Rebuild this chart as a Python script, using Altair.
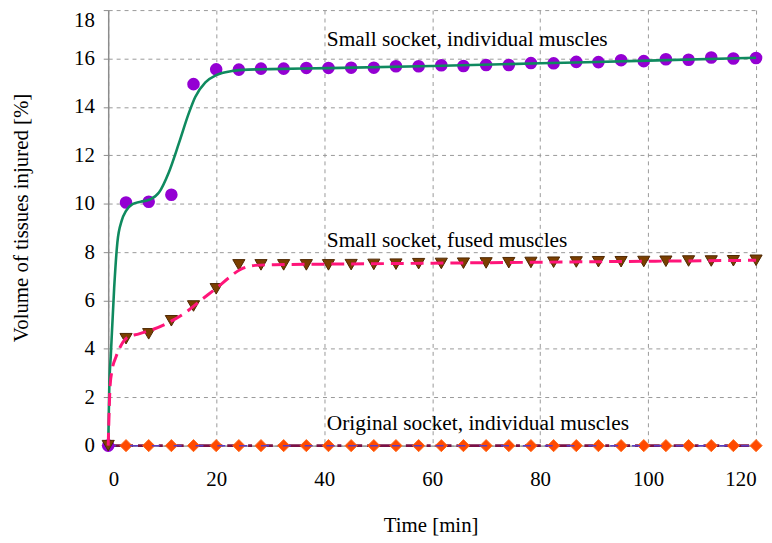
import altair as alt
import pandas as pd

# ---- data ----
times = [0, 3.3, 7.5, 11.7, 15.8, 20.0, 24.2, 28.3, 32.5, 36.7, 40.8, 45.0, 49.2, 53.3, 57.5,
         61.7, 65.8, 70.0, 74.2, 78.3, 82.5, 86.7, 90.8, 95.0, 99.2, 103.3, 107.5, 111.7, 115.8, 120.0]
small_individual = [0, 10.05, 10.08, 10.37, 14.94, 15.55, 15.54, 15.58, 15.58, 15.61, 15.61, 15.62,
                    15.62, 15.68, 15.68, 15.72, 15.69, 15.73, 15.73, 15.81, 15.80, 15.86, 15.85,
                    15.93, 15.89, 15.97, 15.95, 16.04, 16.00, 16.02]
small_fused = [0, 4.42, 4.62, 5.16, 5.77, 6.48, 7.47, 7.47, 7.47, 7.47, 7.47, 7.48, 7.49, 7.50,
               7.52, 7.53, 7.54, 7.55, 7.56, 7.57, 7.58, 7.59, 7.60, 7.60, 7.61, 7.62, 7.63, 7.63,
               7.64, 7.66]
original_individual = [0] * 30

fit_individual_t = [0, 0.2, 0.5, 1.1, 1.7, 2.5, 3.3, 4.5, 6.0, 7.6, 9.4, 11.2, 13.1, 14.9, 16.1,
                    18.0, 20.1, 22.9, 25.9, 30.0, 40.8, 60, 80, 100, 120]
fit_individual_v = [0, 2.4, 3.8, 6.5, 8.4, 9.3, 9.7, 9.98, 10.08, 10.16, 10.46, 11.28, 12.5, 13.72,
                    14.4, 15.01, 15.32, 15.48, 15.54, 15.56, 15.60, 15.69, 15.80, 15.91, 16.03]

fit_fused_t = [0, 0.15, 0.34, 0.7, 1.45, 2.37, 3.6, 5.7, 8.5, 11.2, 14.3, 17.4, 20.1, 22.3, 24.4,
               27.2, 30.8, 40, 60, 80, 100, 120]
fit_fused_v = [0, 1.2, 2.44, 3.1, 3.67, 4.14, 4.48, 4.62, 4.82, 5.09, 5.5, 6.05, 6.52, 6.93, 7.27,
               7.45, 7.48, 7.50, 7.54, 7.58, 7.62, 7.66]

fit_original_t = [0, 120]
fit_original_v = [0, 0]

labels = ["Small socket, individual muscles", "Small socket, fused muscles",
          "Original socket, individual muscles"]
label_t = [40.5, 40.5, 40.5]
label_v = [16.5, 8.2, 0.63]

x_ticks = [0, 20, 40, 60, 80, 100, 120]
y_ticks = [0, 2, 4, 6, 8, 10, 12, 14, 16, 18]

# ---- tables ----
df_ind = pd.DataFrame({"t": times, "v": small_individual})
df_fus = pd.DataFrame({"t": times, "v": small_fused})
df_org = pd.DataFrame({"t": times, "v": original_individual})
df_fit_ind = pd.DataFrame({"t": fit_individual_t, "v": fit_individual_v})
df_fit_fus = pd.DataFrame({"t": fit_fused_t, "v": fit_fused_v})
df_fit_org = pd.DataFrame({"t": fit_original_t, "v": fit_original_v})
df_lab = pd.DataFrame({"t": label_t, "v": label_v, "label": labels})

FONT = "Liberation Serif"

x_enc = alt.X("t:Q", scale=alt.Scale(domain=[0, 120], nice=False, zero=False),
              axis=alt.Axis(values=x_ticks, title="Time [min]", ticks=False, tickSize=0,
                            labelPadding=40, labelBaseline="alphabetic", labelFlush=True,
                            labelOverlap=False, titleX=325, titleY=87,
                            titleBaseline="alphabetic", titleAlign="center"))
y_enc = alt.Y("v:Q", scale=alt.Scale(domain=[0, 18], nice=False),
              axis=alt.Axis(values=y_ticks, title="Volume of tissues injured [%]",
                            tickSize=5, labelPadding=9, labelFlush=False, labelOverlap=False,
                            labelBaseline={"condition": {"test": "datum.value == 18",
                                                         "value": "top"},
                                           "value": "middle"},
                            titleX=-81, titleY=209, titleAngle=270,
                            titleBaseline="alphabetic", titleAlign="center"))

line_org = alt.Chart(df_fit_org).mark_line(color="#7a1146", strokeWidth=3,
                                           strokeDash=[16, 5, 4, 5]).encode(x=x_enc, y=y_enc)
pts_org = alt.Chart(df_org).mark_point(shape="diamond", filled=True, size=150, opacity=1,
                                       fill="#ff4a00", stroke="#ff6a1a",
                                       strokeWidth=1).encode(x=x_enc, y=y_enc)
line_org2 = alt.Chart(df_fit_org).mark_line(color="#5b3cc4", strokeWidth=1.5,
                                            strokeDash=[8, 14]).encode(x=x_enc, y=y_enc)
pts_ind = alt.Chart(df_ind).mark_circle(size=160, opacity=1,
                                        color="#9400d3").encode(x=x_enc, y=y_enc)
line_ind = alt.Chart(df_fit_ind).mark_line(color="#0f8a5f", strokeWidth=2.6,
                                           interpolate="monotone").encode(x=x_enc, y=y_enc)
pts_fus = alt.Chart(df_fus).mark_point(shape="triangle-down", filled=True, size=150, opacity=1,
                                       fill="#7b3f00", stroke="#4d2600",
                                       strokeWidth=1).encode(x=x_enc, y=y_enc)
line_fus = alt.Chart(df_fit_fus).mark_line(color="#ff1579", strokeWidth=3, strokeDash=[13, 7],
                                           interpolate="monotone").encode(x=x_enc, y=y_enc)
text = alt.Chart(df_lab).mark_text(align="left", baseline="alphabetic", font=FONT,
                                   fontSize=21.5, color="black").encode(
    x=x_enc, y=y_enc, text="label:N")

chart = alt.layer(line_org, pts_org, line_org2, pts_ind, line_ind, pts_fus, line_fus,
                  text).properties(
    width=653, height=439,
    autosize=alt.AutoSizeParams(type="none"),
    padding={"left": 101, "right": 8, "top": 0, "bottom": 92},
).configure_view(stroke=None).configure_axis(
    labelFont=FONT, titleFont=FONT, labelFontSize=21, titleFontSize=21,
    labelColor="black", titleColor="black", titleFontWeight="normal",
    domainColor="#8c8c8c", domainWidth=1.5, tickColor="#8c8c8c", tickWidth=1,
    grid=True, gridColor="#999999", gridDash=[4, 4], gridWidth=1, gridOpacity=1,
)

chart.save("out.html", embed_options={"renderer": "svg", "actions": False})
